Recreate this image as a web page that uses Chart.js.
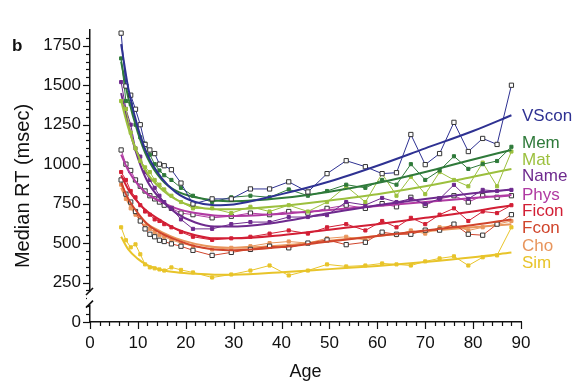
<!DOCTYPE html>
<html>
<head>
<meta charset="utf-8">
<script src="https://cdn.jsdelivr.net/npm/chart.js@4/dist/chart.umd.min.js"></script>
<style>
  html, body { margin: 0; padding: 0; background: #fff; }
  #wrap { width: 576px; height: 383px; }
</style>
</head>
<body>
<div id="wrap"><canvas id="rtChart"></canvas></div>
<script>
// ages of the measured points and of the fitted curves
const ages = [6.5, 7.5, 8.5, 9.5, 10.5, 11.5, 12.5, 13.5, 14.5, 15.5, 17, 19, 21.5, 25.5, 29.5, 33.5,
  37.5, 41.5, 45.5, 49.5, 53.5, 57.5, 61, 64, 67, 70, 73, 76, 79, 82, 85, 88];
const fitAges = [6.5, 8, 10, 12, 15, 18, 22, 26, 30, 40, 50, 60, 70, 80, 88];

const tasks = ["VScon", "Mem", "Mat", "Name", "Phys", "Ficon", "Fcon", "Cho", "Sim"];
const yTicks = [0, 250, 500, 750, 1000, 1250, 1500, 1750];

// median RT (msec), raw points
const vsconRaw = [1830, 1495, 1437, 1348, 1250, 1125, 1090, 1067, 1000, 990, 965, 880, 748, 780, 780, 843,
  843, 888, 824, 940, 1022, 984, 940, 946, 1188, 997, 1067, 1265, 1080, 1163, 1125, 1500];
const memRaw = [1670, 1400, 1380, 1250, 1170, 1130, 1060, 1000, 960, 930, 900, 850, 800, 760, 790, 800,
  790, 840, 800, 830, 870, 850, 900, 870, 1000, 900, 960, 1050, 970, 1000, 1020, 1110];
const matRaw = [1400, 1350, 1200, 1100, 1020, 980, 950, 900, 870, 840, 800, 760, 720, 720, 690, 730,
  700, 740, 700, 760, 860, 760, 940, 800, 920, 810, 950, 900, 860, 1010, 860, 1080];
const nameRaw = [1520, 1350, 1250, 1100, 1048, 950, 900, 850, 800, 760, 720, 650, 590, 590, 620, 633,
  633, 665, 665, 677, 760, 741, 786, 760, 780, 748, 780, 869, 780, 837, 830, 837];
const physRaw = [1090, 1000, 960, 900, 860, 830, 800, 780, 760, 740, 720, 690, 680, 660, 670, 690,
  680, 700, 690, 720, 740, 720, 750, 730, 790, 740, 780, 800, 760, 800, 790, 800];
const ficonRaw = [950, 900, 830, 790, 740, 700, 680, 650, 640, 620, 600, 570, 540, 520, 530, 540,
  560, 580, 560, 600, 620, 580, 640, 600, 660, 620, 680, 720, 640, 700, 690, 740];
const fconRaw = [900, 810, 760, 700, 640, 590, 556, 540, 518, 510, 495, 480, 454, 422, 441, 460,
  480, 470, 500, 520, 490, 505, 569, 556, 556, 582, 582, 620, 556, 550, 620, 680];
const choRaw = [870, 780, 720, 680, 640, 610, 590, 570, 550, 540, 520, 500, 480, 460, 470, 480,
  500, 510, 500, 530, 540, 520, 560, 550, 580, 560, 600, 610, 580, 600, 620, 640];
const simRaw = [600, 518, 473, 492, 429, 365, 346, 340, 333, 326, 346, 330, 314, 282, 301, 326,
  358, 295, 326, 365, 352, 358, 371, 365, 358, 384, 403, 416, 358, 410, 422, 600];

// fitted curves
const vsconFit = [1760, 1480, 1230, 1060, 910, 820, 760, 740, 745, 810, 890, 990, 1100, 1210, 1310];
const memFit = [1650, 1420, 1200, 1040, 900, 830, 790, 770, 765, 785, 825, 880, 950, 1030, 1090];
const matFit = [1400, 1230, 1060, 940, 840, 775, 730, 715, 715, 735, 770, 810, 860, 920, 970];
const nameFit = [1450, 1250, 1040, 890, 770, 690, 630, 605, 605, 635, 690, 740, 780, 815, 840];
const physFit = [1060, 960, 870, 810, 760, 720, 690, 675, 672, 685, 710, 735, 760, 785, 805];
const ficonFit = [930, 840, 760, 700, 640, 590, 550, 530, 530, 550, 585, 620, 660, 700, 740];
const fconFit = [880, 780, 690, 620, 560, 520, 480, 460, 455, 475, 510, 545, 580, 615, 650];
const choFit = [850, 760, 680, 620, 570, 530, 495, 475, 470, 485, 515, 545, 575, 600, 620];
const simFit = [540, 460, 400, 360, 330, 315, 305, 300, 300, 315, 335, 355, 380, 410, 440];

const raws = [vsconRaw, memRaw, matRaw, nameRaw, physRaw, ficonRaw, fconRaw, choRaw, simRaw];
const fits = [vsconFit, memFit, matFit, nameFit, physFit, ficonFit, fconFit, choFit, simFit];

const colors = ["#2e3192", "#2f7a3a", "#9cc03e", "#6e2a8e", "#b03aa2", "#d21f35", "#d0452c", "#e8955c", "#e8c42a"];
const openMarker = [true, false, false, false, true, false, true, false, false];
const labelY = [116, 143, 160, 176, 195, 211, 228, 246, 263];

const FONT = "'Liberation Sans', Arial, Helvetica, sans-serif";

const datasets = [];
tasks.forEach((t, i) => {
  datasets.push({
    label: t + " fit",
    data: fitAges.map((a, j) => ({ x: a, y: fits[i][j] })),
    borderColor: colors[i],
    borderWidth: 2,
    pointRadius: 0,
    cubicInterpolationMode: "monotone",
    fill: false,
  });
  datasets.push({
    label: t,
    data: ages.map((a, j) => ({ x: a, y: raws[i][j] })),
    borderColor: colors[i],
    borderWidth: 1,
    pointStyle: "rect",
    pointRadius: openMarker[i] ? 3 : 2.2,
    pointBorderWidth: 1,
    pointBorderColor: openMarker[i] ? "#333" : colors[i],
    pointBackgroundColor: openMarker[i] ? "#fff" : colors[i],
    tension: 0,
    fill: false,
  });
});

// extra drawing: minor/major ticks, axis break, titles, panel letter and task labels
const decor = {
  id: "decor",
  afterDraw(chart) {
    const c = chart.ctx;
    const xs = chart.scales.x, ys = chart.scales.y;
    const ax = chart.chartArea.left, ay = chart.chartArea.bottom;
    c.save();
    c.strokeStyle = "#111";
    c.lineWidth = 1.2;
    for (let v = 0; v <= 1800; v += 50) {
      const py = Math.round(ys.getPixelForValue(v)) + 0.5;
      const len = v % 250 === 0 ? 7 : 4;
      c.beginPath(); c.moveTo(ax - len, py); c.lineTo(ax, py); c.stroke();
    }
    for (let v = 0; v <= 90; v += 2) {
      const px = Math.round(xs.getPixelForValue(v)) + 0.5;
      const len = v % 10 === 0 ? 7 : 4;
      c.beginPath(); c.moveTo(px, ay); c.lineTo(px, ay + len); c.stroke();
    }
    // axis break
    const b1 = ys.getPixelForValue(190), b2 = ys.getPixelForValue(110);
    c.fillStyle = "#fff";
    c.fillRect(ax - 3, b1, 6, b2 - b1);
    c.lineWidth = 1.6;
    c.beginPath(); c.moveTo(ax - 4, b1 + 3); c.lineTo(ax + 3, b1 - 4); c.stroke();
    c.beginPath(); c.moveTo(ax - 4, b2 + 3); c.lineTo(ax + 3, b2 - 4); c.stroke();
    // y title
    c.fillStyle = "#111";
    c.font = "20px " + FONT;
    c.textAlign = "center";
    c.textBaseline = "middle";
    c.translate(23, 186);
    c.rotate(-Math.PI / 2);
    c.fillText("Median RT (msec)", 0, 0);
    c.setTransform(1, 0, 0, 1, 0, 0);
    // panel letter
    c.font = "bold 17px " + FONT;
    c.textAlign = "left";
    c.fillText("b", 12, 46);
    // task labels
    c.font = "17px " + FONT;
    tasks.forEach((t, i) => {
      c.fillStyle = colors[i];
      c.fillText(t, 522, labelY[i]);
    });
    c.restore();
  }
};

new Chart(document.getElementById("rtChart"), {
  type: "line",
  data: { datasets },
  options: {
    responsive: true,
    maintainAspectRatio: false,
    animation: false,
    layout: { padding: { top: 30, right: 55, left: 0, bottom: 0 } },
    plugins: { legend: { display: false }, tooltip: { enabled: false } },
    scales: {
      x: {
        type: "linear",
        min: 0,
        max: 90,
        afterFit: (s) => { s.height = 61; },
        grid: { display: false, drawTicks: false },
        border: { display: true, color: "#111", width: 1.5 },
        ticks: {
          stepSize: 10,
          padding: 11,
          color: "#111",
          font: { family: FONT, size: 17 },
        },
        title: {
          display: true,
          text: "Age",
          color: "#111",
          padding: { top: 2, bottom: 0 },
          font: { family: FONT, size: 18 },
        },
      },
      y: {
        min: 0,
        max: 1850,
        afterFit: (s) => { s.width = 90; },
        afterBuildTicks: (s) => { s.ticks = yTicks.map((v) => ({ value: v })); },
        grid: { display: false, drawTicks: false },
        border: { display: true, color: "#111", width: 1.5 },
        ticks: {
          padding: 9,
          color: "#111",
          font: { family: FONT, size: 17 },
          callback: (v) => String(v),
        },
      },
    },
  },
  plugins: [decor],
});
</script>
</body>
</html>
